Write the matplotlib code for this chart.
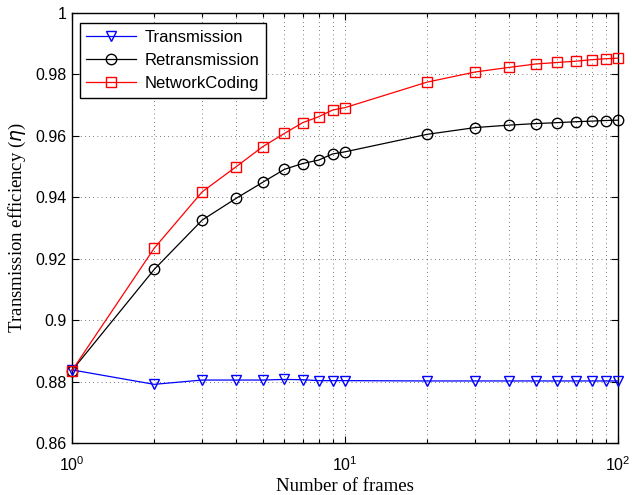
import matplotlib
matplotlib.use("Agg")
import matplotlib.pyplot as plt
from matplotlib.ticker import LogLocator, NullFormatter

frames = [1, 2, 3, 4, 5, 6, 7, 8, 9, 10, 20, 30, 40, 50, 60, 70, 80, 90, 100]
transmission = [0.8838, 0.8791, 0.8805, 0.8805, 0.8805, 0.8807, 0.8806, 0.8803, 0.8803, 0.8803,
                0.8802, 0.8802, 0.8802, 0.8802, 0.8802, 0.8802, 0.8802, 0.8802, 0.8802]
retransmission = [0.8836, 0.9165, 0.9326, 0.9397, 0.9449, 0.9491, 0.9510, 0.9521, 0.9541, 0.9548,
                  0.9605, 0.9627, 0.9635, 0.9640, 0.9643, 0.9646, 0.9648, 0.9650, 0.9651]
network_coding = [0.8836, 0.9234, 0.9418, 0.9500, 0.9565, 0.9608, 0.9643, 0.9662, 0.9684, 0.9692,
                  0.9775, 0.9808, 0.9823, 0.9834, 0.9839, 0.9843, 0.9848, 0.9851, 0.9853]
yticks = [0.86, 0.88, 0.9, 0.92, 0.94, 0.96, 0.98, 1.0]
ytick_labels = ["0.86", "0.88", "0.9", "0.92", "0.94", "0.96", "0.98", "1"]

fig = plt.figure(figsize=(6.32, 4.95), dpi=100)
ax = fig.add_axes([72/632, 1-443/495, (618-72)/632, (443-13)/495])

common = dict(markerfacecolor="none", markersize=7.5, linewidth=0.9, clip_on=False, zorder=3)
ax.plot(frames, transmission, color="blue", marker="v", markeredgecolor="blue",
        label="Transmission", **common)
ax.plot(frames, retransmission, color="black", marker="o", markeredgecolor="black",
        label="Retransmission", **common)
ax.plot(frames, network_coding, color="red", marker="s", markeredgecolor="red",
        label="NetworkCoding", **{**common, "markersize": 7})

ax.set_xscale("log")
ax.set_xlim(1, 100)
ax.set_ylim(0.86, 1.0)
ax.set_yticks(yticks)
ax.set_yticklabels(ytick_labels)
ax.xaxis.set_major_locator(LogLocator(base=10))
ax.xaxis.set_minor_locator(LogLocator(base=10, subs=range(2, 10)))
ax.xaxis.set_minor_formatter(NullFormatter())

ax.grid(True, which="major", linestyle=(0, (1, 5)), color="black", linewidth=0.5)
ax.grid(True, which="minor", axis="x", linestyle=(0, (1, 5)), color="black", linewidth=0.5)

ax.tick_params(which="both", direction="in", top=True, right=True, labelsize=11.5,
               width=0.8)
ax.tick_params(which="major", length=5)
ax.tick_params(which="minor", length=3)
ax.tick_params(axis="x", which="major", pad=9)
ax.tick_params(axis="y", which="major", pad=4)
for lab in ax.get_xticklabels() + ax.get_yticklabels():
    lab.set_family("Liberation Sans")
for sp in ax.spines.values():
    sp.set_linewidth(1.0)

ax.set_xlabel("Number of frames", family="Liberation Serif", fontsize=13.5, labelpad=3)
ax.set_ylabel(r"Transmission efficiency ($\eta$)", family="Liberation Serif", fontsize=13.5, labelpad=5)

leg = ax.legend(loc="upper left", bbox_to_anchor=(0.014, 0.977),
                prop={"family": "Liberation Sans", "size": 12},
                fancybox=False, edgecolor="black", framealpha=1, borderpad=0.4,
                labelspacing=0.5, handlelength=3.0, handletextpad=0.5, borderaxespad=0)
leg.get_frame().set_linewidth(1.0)

fig.savefig("out.png", dpi=100)
